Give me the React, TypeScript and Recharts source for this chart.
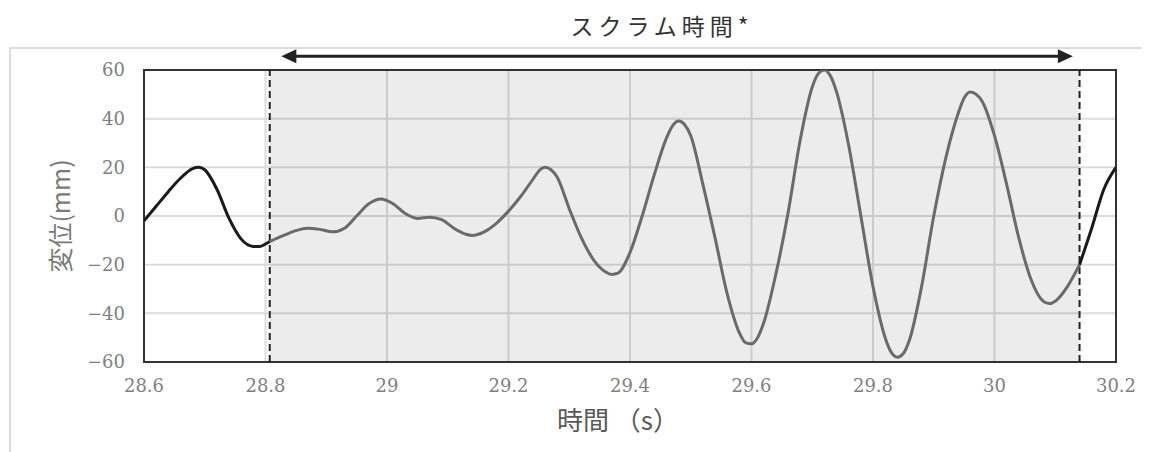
import { ComposedChart, Line, XAxis, YAxis, CartesianGrid, ReferenceArea, ReferenceLine } from 'recharts';

// displacement (mm) against time (s)
const preScram = [
  { t: 28.6, v: -2 }, { t: 28.62, v: 4 }, { t: 28.64, v: 10 }, { t: 28.66, v: 15.5 },
  { t: 28.68, v: 19.5 }, { t: 28.69, v: 20 }, { t: 28.7, v: 19 }, { t: 28.72, v: 11 },
  { t: 28.74, v: -1 }, { t: 28.76, v: -9.5 }, { t: 28.78, v: -12.5 }, { t: 28.79, v: -12.5 },
  { t: 28.8, v: -11.5 }, { t: 28.807, v: -10.5 },
];

const scram = [
  { t: 28.807, v: -10.5 }, { t: 28.83, v: -8 }, { t: 28.85, v: -6 }, { t: 28.87, v: -5 },
  { t: 28.89, v: -5.5 }, { t: 28.91, v: -6.5 }, { t: 28.93, v: -5 }, { t: 28.95, v: 0 },
  { t: 28.97, v: 5 }, { t: 28.99, v: 7 }, { t: 29.01, v: 5 }, { t: 29.03, v: 1 },
  { t: 29.05, v: -1 }, { t: 29.07, v: -0.5 }, { t: 29.09, v: -1.5 }, { t: 29.11, v: -5 },
  { t: 29.13, v: -7.5 }, { t: 29.14, v: -8 }, { t: 29.16, v: -6.5 }, { t: 29.18, v: -3 },
  { t: 29.2, v: 2 }, { t: 29.22, v: 8 }, { t: 29.24, v: 15 }, { t: 29.25, v: 18.5 }, { t: 29.26, v: 20 },
  { t: 29.27, v: 19 }, { t: 29.28, v: 16 }, { t: 29.3, v: 3 }, { t: 29.32, v: -9 }, { t: 29.34, v: -18 },
  { t: 29.36, v: -23 }, { t: 29.37, v: -24 }, { t: 29.38, v: -23.5 }, { t: 29.4, v: -15 },
  { t: 29.42, v: 0 }, { t: 29.44, v: 17 }, { t: 29.46, v: 32 }, { t: 29.47, v: 37 }, { t: 29.48, v: 39 },
  { t: 29.49, v: 37.5 }, { t: 29.5, v: 33 }, { t: 29.52, v: 13 }, { t: 29.54, v: -9 }, { t: 29.56, v: -32 },
  { t: 29.58, v: -48 }, { t: 29.59, v: -52 }, { t: 29.6, v: -52.5 }, { t: 29.61, v: -50 }, { t: 29.62, v: -44 },
  { t: 29.64, v: -24 }, { t: 29.66, v: 1 }, { t: 29.68, v: 31 }, { t: 29.7, v: 53 }, { t: 29.71, v: 58.5 },
  { t: 29.72, v: 60 }, { t: 29.73, v: 57.5 }, { t: 29.74, v: 51 }, { t: 29.76, v: 29 }, { t: 29.78, v: 0 },
  { t: 29.8, v: -29 }, { t: 29.82, v: -50 }, { t: 29.83, v: -56 }, { t: 29.84, v: -58 }, { t: 29.85, v: -56.5 },
  { t: 29.86, v: -51 }, { t: 29.88, v: -29 }, { t: 29.9, v: 0 }, { t: 29.92, v: 24 }, { t: 29.94, v: 42 },
  { t: 29.95, v: 48.5 }, { t: 29.96, v: 51 }, { t: 29.97, v: 50 }, { t: 29.98, v: 47 }, { t: 30.0, v: 33 },
  { t: 30.02, v: 13 }, { t: 30.04, v: -9 }, { t: 30.06, v: -26 }, { t: 30.08, v: -35 }, { t: 30.09, v: -36 },
  { t: 30.1, v: -35 }, { t: 30.12, v: -29 }, { t: 30.14, v: -20 },
];

const postScram = [
  { t: 30.14, v: -20 }, { t: 30.16, v: -5 }, { t: 30.18, v: 11 }, { t: 30.2, v: 20 },
];

const xTicks = [28.6, 28.8, 29, 29.2, 29.4, 29.6, 29.8, 30, 30.2];
const yTicks = [-60, -40, -20, 0, 20, 40, 60];

const scramStart = 28.807;
const scramEnd = 30.14;
const arrowFrom = 28.826;
const arrowTo = 30.129;
const arrowLevel = 65.6;

const tickFont = { fontFamily: '"DejaVu Serif", serif', fontSize: 18, fill: '#808080' };

function Arrow(props: any) {
  const { x1, y1, x2, y2 } = props;
  const head = 15;
  const half = 7;
  const mid = (x1 + x2) / 2;
  return (
    <g>
      <line x1={x1 + head - 2} y1={y1} x2={x2 - head + 2} y2={y2} stroke="#222" strokeWidth={3} />
      <polygon points={`${x1},${y1} ${x1 + head},${y1 - half} ${x1 + head},${y1 + half}`} fill="#222" />
      <polygon points={`${x2},${y2} ${x2 - head},${y2 - half} ${x2 - head},${y2 + half}`} fill="#222" />
      <text
        x={mid - 15}
        y={y1 - 31}
        textAnchor="middle"
        dominantBaseline="central"
        fontFamily='"Noto Sans CJK JP", sans-serif'
        fontSize={23}
        letterSpacing={5}
        fill="#333"
      >
        スクラム時間*
      </text>
    </g>
  );
}

function YLabel(props: any) {
  const { viewBox } = props;
  const cx = 51;
  const cy = viewBox.y + viewBox.height / 2;
  return (
    <text
      x={cx}
      y={cy}
      transform={`rotate(-90, ${cx}, ${cy})`}
      textAnchor="middle"
      dominantBaseline="central"
      fontFamily='"Noto Sans CJK JP", sans-serif'
      fontSize={25}
      fill="#7a7a7a"
    >
      変位(mm)
    </text>
  );
}

export default function App() {
  return (
    <div style={{ position: 'relative', width: 1142, height: 444, overflow: 'hidden', background: '#fff' }}>
      <div
        style={{
          position: 'absolute',
          left: 1,
          top: 39,
          width: 1300,
          height: 600,
          border: '2px solid #dcdcdc',
          boxSizing: 'border-box',
        }}
      />
      <div style={{ position: 'absolute', left: 0, top: 0 }}>
        <ComposedChart width={1142} height={444} margin={{ top: 62, right: 34, bottom: 60, left: 0 }}>
          <CartesianGrid stroke="#dcdcdc" strokeWidth={2} verticalValues={xTicks} horizontalValues={yTicks} />
          <ReferenceArea x1={scramStart} x2={scramEnd} y1={-60} y2={60} fill="#000" fillOpacity={0.075} stroke="none" />
          <XAxis
            dataKey="t"
            type="number"
            domain={[28.6, 30.2]}
            ticks={xTicks}
            allowDataOverflow
            axisLine={false}
            tickLine={false}
            tickMargin={11}
            height={30}
            tick={tickFont}
            label={{
              value: '時間 （s）',
              position: 'bottom',
              offset: 20,
              dx: -12,
              style: { fontFamily: '"Noto Sans CJK JP", sans-serif', fontSize: 26, fill: '#595959' },
            }}
          />
          <YAxis
            type="number"
            domain={[-60, 60]}
            ticks={yTicks}
            allowDataOverflow
            axisLine={false}
            tickLine={false}
            tickMargin={13}
            width={136}
            tick={tickFont}
            tickFormatter={(v: number) => String(v).replace('-', '−')}
            label={<YLabel />}
          />
          <ReferenceArea x1={28.6} x2={30.2} y1={-60} y2={60} fill="none" stroke="#333" strokeWidth={2} />
          <ReferenceLine x={scramStart} stroke="#222" strokeWidth={2} strokeDasharray="7 4" />
          <ReferenceLine x={scramEnd} stroke="#222" strokeWidth={2} strokeDasharray="7 4" />
          <ReferenceLine
            segment={[{ x: arrowFrom, y: arrowLevel }, { x: arrowTo, y: arrowLevel }]}
            ifOverflow="visible"
            shape={<Arrow />}
          />
          <Line data={preScram} dataKey="v" type="monotone" stroke="#1a1a1a" strokeWidth={3} dot={false} isAnimationActive={false} />
          <Line data={scram} dataKey="v" type="monotone" stroke="#6a6a6a" strokeWidth={3} dot={false} isAnimationActive={false} />
          <Line data={postScram} dataKey="v" type="monotone" stroke="#1a1a1a" strokeWidth={3} dot={false} isAnimationActive={false} />
        </ComposedChart>
      </div>
    </div>
  );
}
